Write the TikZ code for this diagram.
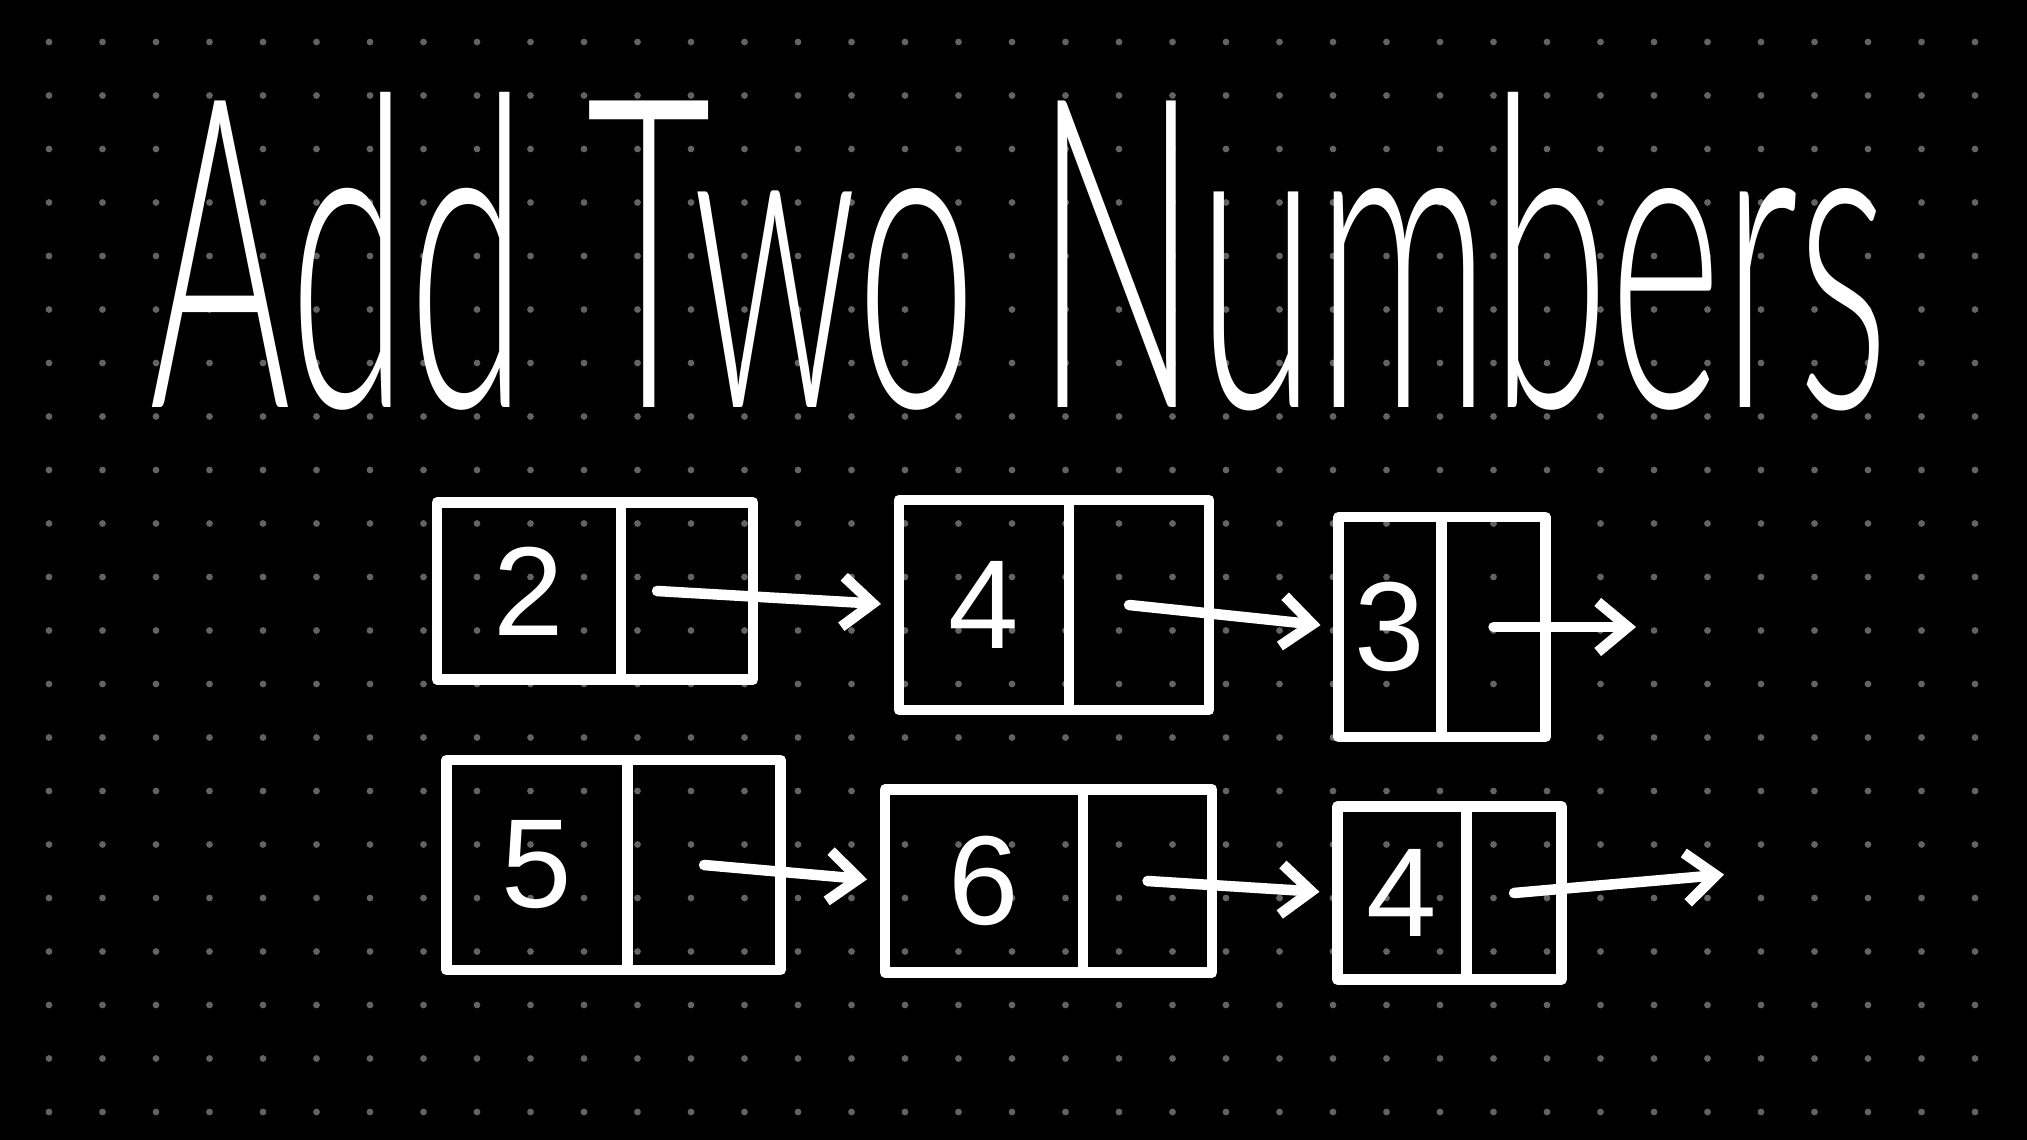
\documentclass[tikz,border=0pt]{standalone}
\usepackage{graphicx}
\usepackage{fontspec}
\setmainfont{Liberation Sans}
\newfontfamily\handfont{Lato Light}
\usetikzlibrary{arrows.meta}
\usetikzlibrary{positioning}
\definecolor{dotgray}{HTML}{636363}
\tikzstyle{val} = [rectangle, draw=white, line width=3pt, line join=round, outer sep=0pt, inner sep=0pt, text=white, font=\fontsize{36}{36}\selectfont]
\tikzstyle{ptr} = [val]
\tikzstyle{link} = [white, line width=3pt, line cap=round, shorten >=0.18cm, -{Straight Barb[length=0.3cm,width=0.5cm]}]

\begin{document}
\begin{tikzpicture}[x=0.01cm, y=-0.01cm]

\fill[black] (0,0) rectangle (2027,1140);
\foreach \i in {0,...,36}
  \foreach \j in {0,...,20}
    \fill[dotgray] (49+53.5*\i, 42+53.5*\j) circle (0.034cm);

\node (title) [anchor=south west, inner sep=0pt, text=white, font=\handfont] at (149,412)
  {\resizebox{17.38cm}{3.15cm}{Add Two Numbers}};

% first list
\node (v2) [val, minimum width=1.84cm, minimum height=1.77cm] at (529,591) {2};
\node (p2) [ptr, minimum width=1.32cm, minimum height=1.77cm, right=0pt of v2] {};
\node (v4) [val, minimum width=1.70cm, minimum height=2.10cm] at (984,605) {4};
\node (p4) [ptr, minimum width=1.40cm, minimum height=2.10cm, right=0pt of v4] {};
\node (v3) [val, minimum width=1.03cm, minimum height=2.20cm] at (1390,627) {3};
\node (p3) [ptr, minimum width=1.04cm, minimum height=2.20cm, right=0pt of v3] {};
\coordinate (tail1) at (1654,627);

% second list
\node (v5) [val, minimum width=1.81cm, minimum height=2.10cm] at (537,865) {5};
\node (p5) [ptr, minimum width=1.53cm, minimum height=2.10cm, right=0pt of v5] {};
\node (v6) [val, minimum width=1.98cm, minimum height=1.83cm] at (984,881) {6};
\node (p6) [ptr, minimum width=1.29cm, minimum height=1.83cm, right=0pt of v6] {};
\node (v4b) [val, minimum width=1.29cm, minimum height=1.73cm] at (1402,893) {4};
\node (p4b) [ptr, minimum width=0.95cm, minimum height=1.73cm, right=0pt of v4b] {};
\coordinate (tail2) at (1742,873);

\draw[link] ([xshift=-0.3cm]p2.center) -- (v4.west);
\draw[link] ([xshift=-0.1cm]p4.center) -- (v3.west);
\draw[link] (p3.center) -- (tail1);
\draw[link] (p5.center) -- (v6.west);
\draw[link] (p6.center) -- (v4b.west);
\draw[link] (p4b.center) -- (tail2);

\end{tikzpicture}
\end{document}
